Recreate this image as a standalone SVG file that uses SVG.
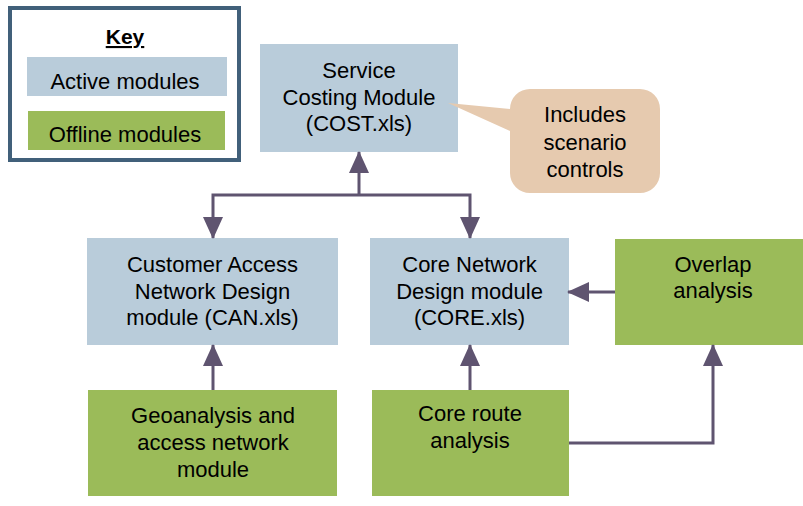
<svg xmlns="http://www.w3.org/2000/svg" width="803" height="506" viewBox="0 0 803 506">
<defs>
<style>
.t{font-family:"Liberation Sans",Arial,sans-serif;font-size:22px;fill:#000;text-anchor:middle}
.blue{fill:#B9CCDA}
.green{fill:#9BBB59}
.c{fill:none;stroke:#5F5470;stroke-width:3}
</style>
<marker id="ah" markerUnits="userSpaceOnUse" markerWidth="22" markerHeight="22" viewBox="0 0 22 20" refX="21" refY="10" orient="auto">
<path d="M0,0 L22,10 L0,20 Z" fill="#5F5470"/>
</marker>
</defs>
<rect width="803" height="506" fill="#fff"/>
<g id="key">
<rect x="10" y="8" width="229" height="152" fill="#fff" stroke="#41607A" stroke-width="4"/>
<text class="t" x="125" y="44" style="font-weight:bold;font-size:21px;text-decoration:underline">Key</text>
<rect class="blue" x="27" y="57" width="200" height="39"/>
<text class="t" x="125" y="89">Active modules</text>
<rect class="green" x="28" y="111" width="197" height="39"/>
<text class="t" x="125" y="142">Offline modules</text>
</g>
<g id="cost">
<rect class="blue" x="260" y="44" width="198" height="108"/>
<text class="t" x="359" y="78">Service</text>
<text class="t" x="359" y="104.5">Costing Module</text>
<text class="t" x="359" y="131">(COST.xls)</text>
</g>
<g id="callout">
<path d="M530,89 H640 A20,20 0 0 1 660,109 V173 A20,20 0 0 1 640,193 H530 A20,20 0 0 1 510,173 V131 L448,103 L510,109 A20,20 0 0 1 530,89 Z" fill="#E6CAAF"/>
<text class="t" x="585" y="122">Includes</text>
<text class="t" x="585" y="149.5">scenario</text>
<text class="t" x="585" y="177">controls</text>
</g>
<g id="can">
<rect class="blue" x="87" y="238" width="251" height="107"/>
<text class="t" x="212.5" y="272">Customer Access</text>
<text class="t" x="212.5" y="298.5">Network Design</text>
<text class="t" x="212.5" y="325">module (CAN.xls)</text>
</g>
<g id="core">
<rect class="blue" x="370" y="238" width="199" height="107"/>
<text class="t" x="469.5" y="272">Core Network</text>
<text class="t" x="469.5" y="298.5">Design module</text>
<text class="t" x="469.5" y="325">(CORE.xls)</text>
</g>
<g id="overlap">
<rect class="green" x="615" y="239" width="198" height="106"/>
<text class="t" x="713" y="272">Overlap</text>
<text class="t" x="713" y="298">analysis</text>
</g>
<g id="geo">
<rect class="green" x="88" y="390" width="249" height="106"/>
<text class="t" x="213" y="423">Geoanalysis and</text>
<text class="t" x="213" y="450">access network</text>
<text class="t" x="213" y="477">module</text>
</g>
<g id="coreroute">
<rect class="green" x="372" y="390" width="197" height="106"/>
<text class="t" x="470" y="421">Core route</text>
<text class="t" x="470" y="448">analysis</text>
</g>
<g id="connectors">
<path class="c" d="M359,195 V152" marker-end="url(#ah)"/>
<path class="c" d="M359,195 H213 V238" marker-end="url(#ah)"/>
<path class="c" d="M359,195 H470 V238" marker-end="url(#ah)"/>
<path class="c" d="M615,292 H568" marker-end="url(#ah)"/>
<path class="c" d="M213,390 V345" marker-end="url(#ah)"/>
<path class="c" d="M470,390 V345" marker-end="url(#ah)"/>
<path class="c" d="M569,443 H713 V345" marker-end="url(#ah)"/>
</g>
</svg>
